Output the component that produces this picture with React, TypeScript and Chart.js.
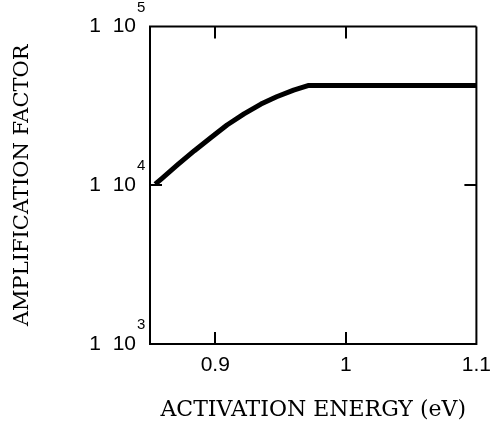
import React, { useEffect, useRef } from "react";
import { Chart, registerables } from "chart.js";

Chart.register(...registerables);

const energy = [0.854, 0.859, 0.871, 0.884, 0.897, 0.909, 0.922, 0.935, 0.947, 0.96, 0.971, 1.1];
const amplification = [10170, 11030, 13430, 16520, 20090, 23990, 28180, 32510, 36140, 39810, 42500, 42500];

const xTickValues = [0.9, 1, 1.1];
const xTickLabels = ["0.9", "1", "1.1"];
const yTickValues = [1000, 10000, 100000];
const yTickBase = ["1  10", "1  10", "1  10"];
const yTickExponents = ["3", "4", "5"];

const xInnerTicks = [0.9, 1];
const yInnerTicks = [10000];

const framePlugin = {
  id: "frame",
  afterDraw(chart: any) {
    const { ctx, chartArea } = chart;
    const { left, right, top, bottom } = chartArea;
    const xs = chart.scales.x;
    const ys = chart.scales.y;
    ctx.save();
    ctx.strokeStyle = "#000";
    ctx.lineWidth = 2;
    ctx.beginPath();
    ctx.moveTo(left - 1, top);
    ctx.lineTo(right, top);
    ctx.moveTo(right, top);
    ctx.lineTo(right, bottom + 1);
    const tl = 12;
    xInnerTicks.forEach((v) => {
      const px = Math.round(xs.getPixelForValue(v));
      ctx.moveTo(px, bottom);
      ctx.lineTo(px, bottom - tl);
      ctx.moveTo(px, top);
      ctx.lineTo(px, top + tl);
    });
    yInnerTicks.forEach((v) => {
      const py = Math.round(ys.getPixelForValue(v));
      ctx.moveTo(left, py);
      ctx.lineTo(left + tl, py);
      ctx.moveTo(right, py);
      ctx.lineTo(right - tl, py);
    });
    ctx.stroke();

    ctx.fillStyle = "#000";
    ctx.font = "15px 'Liberation Sans'";
    ctx.textAlign = "left";
    ctx.textBaseline = "middle";
    yTickValues.forEach((v, i) => {
      const py = ys.getPixelForValue(v);
      ctx.fillText(yTickExponents[i], left - 13, py - 19);
    });
    ctx.restore();
  },
};

export default function App() {
  const ref = useRef<HTMLCanvasElement>(null);
  useEffect(() => {
    if (!ref.current) return;
    const chart = new Chart(ref.current, {
      type: "line",
      data: {
        datasets: [
          {
            data: energy.map((x, i) => ({ x, y: amplification[i] })),
            borderColor: "#000",
            borderWidth: 5,
            pointRadius: 0,
            tension: 0,
            borderJoinStyle: "round",
            fill: false,
          },
        ],
      },
      options: {
        animation: false,
        responsive: false,
        layout: { padding: { top: 25, right: 18, left: 0, bottom: 0 } },
        plugins: { legend: { display: false }, tooltip: { enabled: false } },
        scales: {
          x: {
            type: "linear",
            min: 0.85,
            max: 1.1,
            afterBuildTicks: (s: any) => {
              s.ticks = xTickValues.map((v) => ({ value: v }));
            },
            afterFit: (s: any) => {
              s.height = 88;
            },
            grid: { display: false, drawTicks: false },
            border: { display: true, color: "#000", width: 2 },
            ticks: {
              color: "#000",
              font: { family: "'Liberation Sans'", size: 21 },
              padding: 9,
              maxRotation: 0,
              autoSkip: false,
              callback: (_v: any, i: number) => xTickLabels[i],
            },
            title: {
              display: true,
              text: "ACTIVATION ENERGY (eV)",
              color: "#000",
              font: { family: "'DejaVu Serif'", size: 22 },
              padding: { top: 0, bottom: 9 },
            },
          },
          y: {
            type: "logarithmic",
            min: 1000,
            max: 100000,
            afterBuildTicks: (s: any) => {
              s.ticks = yTickValues.map((v) => ({ value: v }));
            },
            afterFit: (s: any) => {
              s.width = 150;
            },
            grid: { display: false, drawTicks: false },
            border: { display: true, color: "#000", width: 2 },
            ticks: {
              color: "#000",
              font: { family: "'Liberation Sans'", size: 21 },
              padding: 14,
              autoSkip: false,
              callback: (_v: any, i: number) => yTickBase[i],
            },
            title: {
              display: true,
              text: "AMPLIFICATION FACTOR",
              color: "#000",
              font: { family: "'DejaVu Serif'", size: 21 },
              padding: { top: 10, bottom: 0 },
            },
          },
        },
      },
      plugins: [framePlugin],
    } as any);
    return () => chart.destroy();
  }, []);
  return (
    <canvas
      ref={ref}
      width={500}
      height={432}
      style={{ position: "absolute", left: 0, top: 0, display: "block", background: "#fff" }}
    />
  );
}
